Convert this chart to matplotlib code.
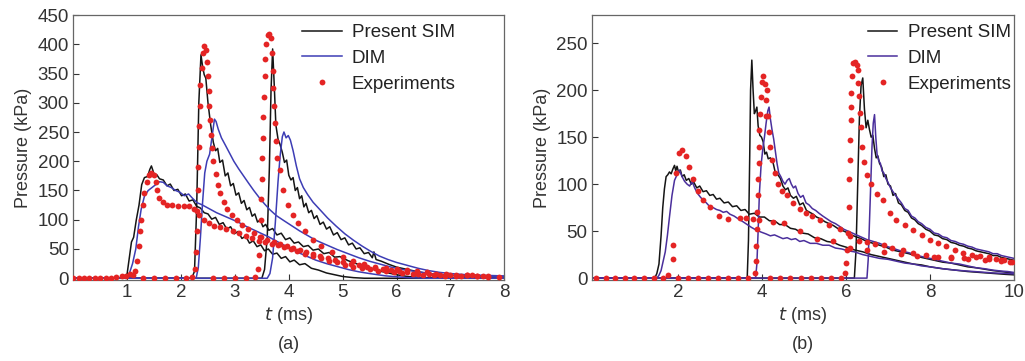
import matplotlib.pyplot as plt

plt.rcParams['font.family'] = ['Liberation Sans', 'DejaVu Sans']

# ---- panel (a): three gauges, (t [ms], p [kPa]) ----
a_sim_1 = [(0, 0), (0.95, 0), (1.0, 8), (1.04, 35), (1.08, 62), (1.12, 70), (1.17, 100), (1.22, 125), (1.27, 160),
           (1.32, 172), (1.38, 174), (1.42, 186), (1.45, 192), (1.5, 178), (1.55, 177), (1.6, 170), (1.67, 168),
           (1.74, 158), (1.8, 161), (1.87, 150), (1.94, 152), (2.01, 141), (2.08, 144), (2.15, 132), (2.22, 134),
           (2.29, 123), (2.36, 120), (2.43, 112), (2.5, 110), (2.57, 101), (2.64, 104), (2.71, 92), (2.78, 95),
           (2.85, 84), (2.92, 88), (2.99, 76), (3.06, 80), (3.13, 68), (3.2, 72), (3.27, 60), (3.34, 64), (3.41, 54),
           (3.48, 57), (3.55, 47), (3.62, 50), (3.7, 41), (3.78, 43), (3.86, 34), (3.94, 37), (4.02, 28), (4.1, 31),
           (4.2, 23), (4.3, 25), (4.42, 17), (4.55, 14), (4.7, 9), (4.85, 6), (5.0, 3), (5.2, 1), (5.4, 0), (8, 0)]
a_sim_2 = [(0, 0), (2.2, 0), (2.25, 12), (2.29, 120), (2.33, 300), (2.37, 382), (2.4, 362), (2.43, 348), (2.46, 342),
           (2.5, 300), (2.55, 262), (2.6, 232), (2.64, 218), (2.68, 222), (2.72, 198), (2.77, 202), (2.82, 175),
           (2.87, 180), (2.92, 158), (2.97, 162), (3.02, 142), (3.07, 146), (3.12, 128), (3.17, 133), (3.22, 117),
           (3.27, 121), (3.32, 106), (3.37, 110), (3.42, 96), (3.47, 100), (3.52, 88), (3.57, 92), (3.63, 82),
           (3.7, 85), (3.78, 74), (3.86, 77), (3.94, 66), (4.02, 69), (4.1, 60), (4.18, 62), (4.27, 54), (4.36, 56),
           (4.45, 48), (4.55, 50), (4.65, 42), (4.75, 44), (4.85, 36), (4.95, 37), (5.1, 30), (5.25, 25), (5.4, 20),
           (5.55, 16), (5.7, 12), (5.85, 9), (6.0, 6), (6.2, 3), (6.5, 1), (7, 0), (8, 0)]
a_sim_3 = [(0, 0), (3.5, 0), (3.55, 15), (3.6, 70), (3.64, 190), (3.67, 320), (3.7, 392), (3.73, 330), (3.76, 262),
           (3.8, 238), (3.84, 228), (3.88, 215), (3.92, 198), (3.96, 202), (4.0, 176), (4.04, 168), (4.08, 172),
           (4.12, 150), (4.16, 155), (4.2, 136), (4.24, 141), (4.28, 122), (4.32, 128), (4.37, 112), (4.42, 116),
           (4.47, 102), (4.52, 107), (4.58, 92), (4.64, 96), (4.7, 84), (4.76, 88), (4.83, 74), (4.9, 78), (4.97, 66),
           (5.04, 69), (5.11, 57), (5.18, 60), (5.25, 50), (5.32, 52), (5.4, 42), (5.48, 44), (5.55, 35), (5.58, 45),
           (5.62, 32), (5.72, 29), (5.85, 24), (6.0, 19), (6.2, 15), (6.4, 11), (6.6, 8), (6.8, 6), (7.0, 5),
           (7.4, 3), (8, 2)]
a_dim_1 = [(0, 0), (0.98, 0), (1.04, 8), (1.1, 25), (1.16, 50), (1.21, 88), (1.26, 118), (1.32, 140), (1.39, 150),
           (1.46, 155), (1.53, 160), (1.6, 165), (1.67, 164), (1.74, 158), (1.82, 155), (1.9, 150), (1.98, 147),
           (2.06, 141), (2.14, 144), (2.22, 136), (2.3, 129), (2.38, 126), (2.46, 122), (2.56, 117), (2.66, 112),
           (2.76, 108), (2.86, 104), (2.96, 100), (3.08, 95), (3.2, 89), (3.34, 83), (3.48, 77), (3.62, 71),
           (3.76, 64), (3.9, 57), (4.05, 50), (4.2, 43), (4.35, 37), (4.5, 31), (4.7, 25), (4.9, 20), (5.1, 15),
           (5.3, 11), (5.5, 8), (5.8, 4), (6.2, 1), (6.6, 0), (8, 0)]
a_dim_2 = [(0, 0), (2.28, 0), (2.32, 18), (2.36, 70), (2.4, 130), (2.44, 180), (2.48, 200), (2.53, 212), (2.58, 245),
           (2.62, 272), (2.65, 268), (2.69, 255), (2.75, 240), (2.82, 228), (2.9, 214), (2.98, 200), (3.07, 187),
           (3.16, 175), (3.25, 163), (3.35, 150), (3.45, 138), (3.55, 127), (3.65, 117), (3.77, 107), (3.9, 99),
           (4.05, 90), (4.2, 81), (4.35, 73), (4.5, 65), (4.7, 57), (4.9, 49), (5.1, 42), (5.3, 35), (5.5, 29),
           (5.7, 24), (5.9, 19), (6.1, 15), (6.4, 11), (6.7, 7), (7.0, 5), (7.5, 3), (8, 2)]
a_dim_3 = [(0, 0), (3.6, 0), (3.65, 8), (3.7, 35), (3.75, 95), (3.8, 165), (3.84, 210), (3.88, 242), (3.91, 250),
           (3.95, 240), (3.99, 244), (4.03, 236), (4.08, 218), (4.14, 192), (4.2, 170), (4.27, 155), (4.35, 143),
           (4.45, 130), (4.58, 117), (4.72, 103), (4.88, 89), (5.04, 76), (5.2, 65), (5.36, 55), (5.52, 46),
           (5.68, 38), (5.84, 32), (6.0, 27), (6.2, 22), (6.4, 17), (6.6, 13), (6.8, 10), (7.0, 8), (7.3, 6),
           (7.6, 5), (8, 4)]
a_exp_1 = [(0.0, 0), (0.1, 0), (0.2, 0), (0.3, 0), (0.4, 0), (0.5, 0), (0.6, 1), (0.7, 0), (0.8, 2), (0.9, 4),
           (0.98, 3), (1.05, 8), (1.1, 5), (1.14, 12), (1.19, 30), (1.22, 55), (1.24, 80), (1.26, 100), (1.29, 125),
           (1.32, 145), (1.36, 165), (1.4, 177), (1.45, 180), (1.5, 176), (1.53, 165), (1.56, 150), (1.6, 138),
           (1.66, 130), (1.74, 126), (1.84, 125), (1.94, 124), (2.05, 124), (2.15, 123), (2.24, 118), (2.33, 108),
           (2.42, 100), (2.52, 94), (2.62, 90), (2.72, 87), (2.84, 84), (2.96, 80), (3.08, 77), (3.2, 72), (3.32, 68),
           (3.44, 64), (3.56, 62), (3.68, 58), (3.8, 56), (3.92, 54), (4.04, 50), (4.16, 46), (4.3, 42), (4.45, 38),
           (4.6, 34), (4.75, 30), (4.9, 27), (5.05, 23), (5.2, 20), (5.35, 18), (5.5, 15), (5.65, 13), (5.8, 12),
           (5.95, 10), (6.1, 9), (6.3, 7), (6.5, 6), (6.7, 5), (6.9, 4), (7.1, 3), (7.3, 5), (7.5, 3), (7.7, 2)]
a_exp_2 = [(1.3, 0), (1.5, 0), (1.7, 0), (1.9, 0), (2.1, 0), (2.2, 2), (2.25, 15), (2.27, 45), (2.29, 80), (2.3, 115),
           (2.31, 150), (2.32, 190), (2.33, 225), (2.34, 260), (2.35, 295), (2.36, 330), (2.38, 360), (2.4, 385),
           (2.43, 397), (2.46, 390), (2.48, 370), (2.5, 345), (2.51, 320), (2.52, 295), (2.53, 270), (2.55, 245),
           (2.57, 222), (2.6, 200), (2.64, 178), (2.68, 160), (2.73, 145), (2.79, 130), (2.86, 118), (2.94, 108),
           (3.03, 99), (3.13, 91), (3.24, 84), (3.36, 77), (3.48, 71), (3.6, 66), (3.72, 62), (3.84, 58), (3.96, 55),
           (4.08, 52), (4.2, 48), (4.32, 45), (4.45, 41), (4.58, 38), (4.72, 35), (4.86, 31), (5.0, 28), (5.15, 25),
           (5.3, 22), (5.45, 20), (5.6, 17), (5.75, 15), (5.9, 14), (6.05, 12), (6.2, 10), (6.4, 8), (6.6, 7),
           (6.8, 6), (7.0, 5), (7.2, 4), (7.4, 6), (7.6, 3)]
a_exp_3 = [(2.6, 0), (2.8, 0), (3.0, 0), (3.2, 0), (3.38, 2), (3.42, 15), (3.45, 40), (3.47, 70), (3.48, 100),
           (3.49, 135), (3.5, 170), (3.51, 205), (3.52, 240), (3.53, 275), (3.54, 310), (3.55, 345), (3.56, 375),
           (3.58, 400), (3.61, 415), (3.64, 418), (3.67, 410), (3.69, 385), (3.7, 355), (3.71, 325), (3.72, 295),
           (3.74, 265), (3.76, 235), (3.79, 205), (3.83, 185), (3.9, 150), (3.99, 125), (4.08, 108), (4.18, 95),
           (4.3, 80), (4.45, 66), (4.6, 55), (4.8, 44), (5.0, 36), (5.2, 29), (5.4, 24), (5.6, 20), (5.8, 17),
           (6.0, 16), (6.2, 14), (6.38, 12), (6.56, 10), (6.74, 8), (6.92, 7), (7.1, 6), (7.3, 5), (7.5, 4),
           (7.7, 3), (7.9, 2)]

# ---- panel (b) ----
b_sim_1 = [(0, 0), (1.45, 0), (1.5, 5), (1.55, 15), (1.6, 45), (1.64, 75), (1.68, 95), (1.72, 108), (1.76, 110),
           (1.8, 113), (1.84, 111), (1.88, 116), (1.92, 120), (1.95, 114), (1.98, 119), (2.02, 112), (2.06, 115),
           (2.1, 108), (2.15, 110), (2.2, 104), (2.26, 106), (2.32, 100), (2.38, 102), (2.45, 96), (2.52, 98),
           (2.6, 92), (2.68, 93), (2.76, 88), (2.84, 89), (2.92, 84), (3.0, 85), (3.1, 80), (3.2, 81), (3.3, 76),
           (3.4, 77), (3.5, 72), (3.6, 73), (3.7, 68), (3.82, 69), (3.94, 65), (4.06, 65), (4.18, 61), (4.3, 61),
           (4.42, 57), (4.55, 57), (4.68, 53), (4.8, 52), (4.95, 48), (5.1, 47), (5.25, 43), (5.4, 42), (5.55, 39),
           (5.7, 38), (5.85, 35), (6.0, 33), (6.2, 30), (6.4, 28), (6.6, 25), (6.8, 23), (7.0, 21), (7.2, 19),
           (7.4, 17), (7.6, 15), (7.8, 14), (8.0, 12), (8.3, 10), (8.6, 8.5), (8.9, 7), (9.2, 6), (9.5, 5),
           (9.8, 4), (10, 3.5)]
b_sim_2 = [(0, 0), (3.65, 0), (3.68, 40), (3.71, 130), (3.73, 200), (3.76, 232), (3.79, 200), (3.82, 175),
           (3.85, 178), (3.88, 182), (3.91, 162), (3.95, 152), (3.99, 150), (4.03, 145), (4.07, 132), (4.11, 134),
           (4.15, 127), (4.2, 128), (4.26, 124), (4.32, 112), (4.38, 110), (4.44, 106), (4.5, 98), (4.56, 94),
           (4.62, 96), (4.68, 88), (4.75, 85), (4.82, 87), (4.9, 78), (4.98, 80), (5.06, 72), (5.14, 70), (5.22, 68),
           (5.3, 65), (5.4, 63), (5.5, 60), (5.6, 58), (5.7, 56), (5.8, 53), (5.9, 51), (6.0, 49), (6.12, 46),
           (6.24, 44), (6.36, 42), (6.5, 39), (6.65, 37), (6.8, 35), (6.95, 33), (7.1, 30), (7.3, 28), (7.5, 26),
           (7.7, 23), (7.9, 21), (8.1, 19), (8.3, 17), (8.5, 16), (8.7, 14), (8.9, 12), (9.1, 11), (9.3, 9.5),
           (9.5, 8), (9.7, 7), (9.85, 6), (10, 5.5)]
b_sim_3 = [(0, 0), (6.2, 0), (6.24, 30), (6.28, 100), (6.32, 170), (6.36, 205), (6.4, 213), (6.44, 180), (6.48, 160),
           (6.52, 168), (6.56, 158), (6.6, 150), (6.64, 152), (6.68, 138), (6.72, 128), (6.76, 130), (6.8, 122),
           (6.85, 118), (6.9, 108), (6.95, 110), (7.0, 100), (7.06, 98), (7.12, 88), (7.18, 90), (7.25, 80),
           (7.32, 78), (7.4, 72), (7.48, 70), (7.56, 64), (7.64, 62), (7.72, 58), (7.8, 56), (7.9, 52), (8.0, 50),
           (8.1, 46), (8.2, 45), (8.3, 42), (8.4, 41), (8.5, 38), (8.6, 37), (8.7, 35), (8.8, 34), (8.9, 32),
           (9.0, 31), (9.1, 29), (9.2, 28), (9.3, 27), (9.4, 26), (9.5, 24), (9.6, 24), (9.7, 22), (9.8, 21),
           (9.9, 20), (10, 19)]
b_dim_1 = [(0, 0), (1.5, 0), (1.55, 3), (1.6, 8), (1.65, 18), (1.7, 28), (1.75, 45), (1.8, 65), (1.86, 88),
           (1.92, 104), (1.98, 110), (2.04, 115), (2.1, 108), (2.16, 103), (2.22, 100), (2.28, 98), (2.34, 103),
           (2.4, 96), (2.47, 90), (2.54, 86), (2.6, 83), (2.68, 80), (2.76, 76), (2.84, 75), (2.92, 73), (3.0, 72),
           (3.08, 70), (3.16, 71), (3.24, 68), (3.34, 66), (3.44, 63), (3.55, 60), (3.65, 57), (3.75, 54), (3.87, 51),
           (3.98, 49), (4.1, 47), (4.2, 45), (4.3, 46), (4.4, 44), (4.5, 42), (4.6, 43), (4.7, 41), (4.8, 42),
           (4.9, 39), (5.0, 40), (5.15, 37), (5.3, 37), (5.45, 35), (5.6, 35), (5.75, 32), (5.9, 31), (6.05, 29),
           (6.2, 28), (6.4, 25), (6.6, 23), (6.8, 21), (7.0, 20), (7.2, 18), (7.4, 16), (7.6, 15), (7.8, 13),
           (8.0, 12), (8.3, 10), (8.6, 8.5), (8.9, 7.5), (9.2, 6.5), (9.5, 5.5), (9.8, 5), (10, 4.5)]
b_dim_2 = [(0, 0), (3.85, 0), (3.88, 15), (3.91, 50), (3.94, 90), (3.98, 120), (4.02, 137), (4.06, 150), (4.1, 165),
           (4.14, 178), (4.17, 182), (4.2, 170), (4.24, 158), (4.28, 148), (4.32, 135), (4.36, 122), (4.4, 112),
           (4.45, 108), (4.5, 103), (4.55, 100), (4.6, 104), (4.65, 106), (4.7, 100), (4.75, 96), (4.8, 98),
           (4.86, 90), (4.92, 86), (4.98, 88), (5.05, 80), (5.12, 78), (5.2, 74), (5.28, 72), (5.36, 69), (5.45, 66),
           (5.55, 63), (5.65, 60), (5.75, 58), (5.85, 55), (5.95, 52), (6.05, 50), (6.2, 47), (6.35, 44), (6.5, 41),
           (6.65, 39), (6.8, 37), (6.95, 34), (7.1, 32), (7.3, 29), (7.5, 27), (7.7, 24), (7.9, 22), (8.1, 20),
           (8.3, 18), (8.5, 16), (8.7, 15), (8.9, 13), (9.1, 11), (9.3, 10), (9.5, 8.5), (9.7, 7.5), (9.85, 7),
           (10, 6)]
b_dim_3 = [(0, 0), (6.5, 0), (6.53, 20), (6.56, 60), (6.59, 100), (6.62, 140), (6.65, 165), (6.68, 174),
           (6.71, 150), (6.74, 132), (6.78, 125), (6.82, 122), (6.86, 114), (6.9, 112), (6.95, 106), (7.0, 102),
           (7.06, 96), (7.12, 92), (7.18, 88), (7.25, 84), (7.32, 80), (7.4, 74), (7.48, 72), (7.56, 66), (7.64, 64),
           (7.72, 60), (7.8, 58), (7.9, 54), (8.0, 52), (8.1, 48), (8.2, 47), (8.3, 44), (8.4, 43), (8.5, 40),
           (8.6, 39), (8.7, 37), (8.8, 36), (8.9, 34), (9.0, 33), (9.1, 31), (9.2, 30), (9.3, 29), (9.4, 28),
           (9.5, 26), (9.6, 26), (9.7, 24), (9.8, 23), (9.9, 22), (10, 21)]
b_exp_1 = [(0.05, 0), (0.28, 0), (0.5, 0), (0.73, 0), (0.96, 0), (1.19, 0), (1.42, 0), (1.65, 0), (1.76, 3),
           (1.88, 20), (1.88, 35), (1.96, 112), (2.02, 133), (2.1, 136), (2.2, 130), (2.27, 118), (2.36, 105),
           (2.48, 93), (2.6, 83), (2.76, 76), (2.99, 66), (3.2, 63), (3.47, 64), (3.62, 64), (3.78, 63), (3.94, 62),
           (4.26, 60), (4.53, 59), (4.9, 50), (5.3, 42), (5.69, 40), (6.09, 32), (6.5, 30), (6.9, 28), (7.3, 26),
           (7.7, 24), (8.1, 22), (8.5, 21), (8.9, 20), (9.3, 19), (9.7, 18)]
b_exp_2 = [(2.0, 0), (2.24, 0), (2.48, 0), (2.72, 0), (2.96, 0), (3.2, 0), (3.44, 0), (3.68, 0), (3.84, 5),
           (3.86, 18), (3.87, 34), (3.88, 52), (3.89, 70), (3.9, 88), (3.91, 105), (3.92, 122), (3.93, 140),
           (3.94, 158), (3.96, 175), (3.98, 193), (4.0, 209), (4.03, 215), (4.07, 207), (4.09, 190), (4.1, 172),
           (4.12, 200), (4.15, 172), (4.17, 155), (4.2, 140), (4.24, 126), (4.3, 112), (4.38, 100), (4.48, 93),
           (4.6, 88), (4.75, 80), (4.9, 74), (5.05, 69), (5.2, 66), (5.38, 62), (5.6, 57), (5.85, 52), (6.09, 45),
           (6.3, 40), (6.5, 38), (6.7, 36), (6.9, 35), (7.1, 32), (7.35, 30), (7.6, 27), (7.9, 25), (8.2, 23),
           (8.5, 22), (8.8, 21), (9.1, 22), (9.4, 20), (9.7, 19), (9.95, 17)]
b_exp_3 = [(4.2, 0), (4.44, 0), (4.68, 0), (4.92, 0), (5.16, 0), (5.4, 0), (5.64, 0), (5.88, 0), (5.97, 5),
           (6.0, 16), (6.03, 30), (6.05, 48), (6.07, 76), (6.08, 105), (6.09, 126), (6.1, 147), (6.11, 168),
           (6.12, 182), (6.13, 197), (6.15, 215), (6.17, 229), (6.22, 230), (6.26, 227), (6.28, 222), (6.28, 208),
           (6.3, 194), (6.33, 176), (6.35, 161), (6.37, 140), (6.42, 124), (6.5, 110), (6.6, 100), (6.75, 90),
           (6.88, 83), (7.04, 69), (7.2, 62), (7.4, 56), (7.6, 51), (7.8, 46), (7.99, 41), (8.2, 37), (8.39, 34),
           (8.6, 30), (8.79, 27), (9.0, 25), (9.19, 24), (9.4, 22), (9.58, 20), (9.75, 19), (9.9, 17)]

panels = [
    dict(sims=[a_sim_1, a_sim_2, a_sim_3], dims=[a_dim_1, a_dim_2, a_dim_3], exps=[a_exp_1, a_exp_2, a_exp_3],
         xlim=(0, 8), ylim=(-3, 450), xticks=[1, 2, 3, 4, 5, 6, 7, 8], yticks=range(0, 451, 50),
         blue='#3d3db5', tag='(a)', rect=[0.0715, 0.2244, 0.4205, 0.7340], leg=(0.531, 0.965), hl=2.1),
    dict(sims=[b_sim_1, b_sim_2, b_sim_3], dims=[b_dim_1, b_dim_2, b_dim_3], exps=[b_exp_1, b_exp_2, b_exp_3],
         xlim=(-0.05, 10), ylim=(-2, 280), xticks=[2, 4, 6, 8, 10], yticks=range(0, 251, 50),
         blue='#4a2f9c', tag='(b)', rect=[0.5773, 0.2244, 0.4120, 0.7340], leg=(0.655, 0.965), hl=1.55),
]

fig = plt.figure(figsize=(10.25, 3.61), dpi=100)
for pan in panels:
    ax = fig.add_axes(pan['rect'])
    for k in range(3):
        t, p = zip(*pan['sims'][k])
        ax.plot(t, p, color='#151515', lw=1.1, label='Present SIM' if k == 0 else None, zorder=2)
    for k in range(3):
        t, p = zip(*pan['dims'][k])
        ax.plot(t, p, color=pan['blue'], lw=1.1, label='DIM' if k == 0 else None, zorder=2)
    for k in range(3):
        t, p = zip(*pan['exps'][k])
        ax.plot(t, p, 'o', color='#e42424', ms=4.2, mew=0, label='Experiments' if k == 0 else None, zorder=3)
    ax.set_xlim(*pan['xlim'])
    ax.set_ylim(*pan['ylim'])
    ax.set_xticks(pan['xticks'])
    ax.set_yticks(list(pan['yticks']))
    ax.tick_params(direction='in', length=4, labelsize=13.5, colors='#333333', top=False, right=False, pad=3)
    for s in ax.spines.values():
        s.set_color('#666666')
        s.set_linewidth(0.9)
    ax.set_ylabel('Pressure (kPa)', fontsize=13, color='#333333', labelpad=4)
    ax.set_xlabel('$t$ (ms)', fontsize=13, color='#333333', labelpad=3)
    ax.legend(loc='upper left', bbox_to_anchor=pan['leg'], frameon=False, fontsize=13.5,
              handlelength=pan['hl'], handletextpad=0.55, labelspacing=0.45, borderpad=0, borderaxespad=0,
              labelcolor='#222222')
    r = pan['rect']
    fig.text(r[0] + r[2] / 2, 0.045, pan['tag'], ha='center', va='center', fontsize=13, color='#333333')

plt.savefig('out.png', dpi=100)
